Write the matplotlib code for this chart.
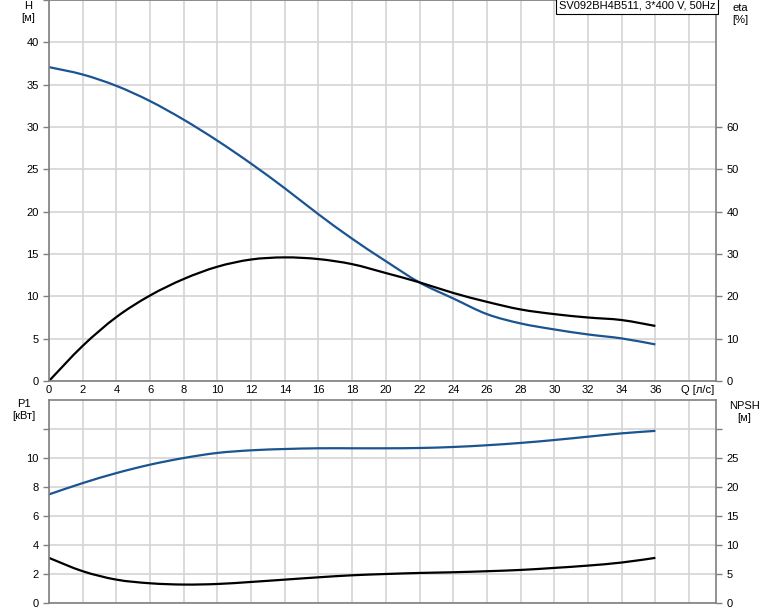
import matplotlib
matplotlib.use("Agg")
import matplotlib.pyplot as plt
from matplotlib.path import Path
from matplotlib.patches import PathPatch
import numpy as np

plt.rcParams['font.family'] = ['Liberation Sans', 'DejaVu Sans']
plt.rcParams['font.size'] = 8

# Data
Q = [0, 2, 4, 6, 8, 10, 12, 14, 16, 18, 20, 22, 24, 26, 28, 30, 32, 34, 36]
H = [37.07, 36.2, 34.86, 33.06, 30.86, 28.38, 25.67, 22.76, 19.69, 16.8,
     14.15, 11.63, 9.75, 7.9, 6.8, 6.09, 5.5, 5.03, 4.32]
ETA = [0.0, 8.3, 15.1, 20.2, 24.1, 27.0, 28.7, 29.2, 28.8, 27.6,
       25.5, 23.3, 20.8, 18.7, 16.9, 15.8, 15.0, 14.4, 13.0]
P1 = [7.49, 8.27, 8.96, 9.54, 10.0, 10.35, 10.53, 10.62, 10.67, 10.67,
      10.67, 10.69, 10.76, 10.88, 11.04, 11.24, 11.47, 11.7, 11.87]
NPSH = [7.78, 5.48, 4.03, 3.4, 3.18, 3.28, 3.63, 4.03, 4.43, 4.78,
        5.0, 5.18, 5.3, 5.48, 5.7, 6.05, 6.45, 6.98, 7.78]

x_ticks = list(range(0, 37, 2))
h_ticks = [0, 5, 10, 15, 20, 25, 30, 35, 40]
eta_ticks = [0, 10, 20, 30, 40, 50, 60]
p1_ticks = [0, 2, 4, 6, 8, 10]
npsh_ticks = [0, 5, 10, 15, 20, 25]
title_text = "SV092BH4B511, 3*400 V, 50Hz"

BLUE = '#1a5491'
GRID = '#d4d4d4'
SPINE = '#7f7f7f'

W, Hpx = 774, 611
fig = plt.figure(figsize=(W / 100, Hpx / 100), dpi=100)

left = 49 / W
right = 716 / W
axw = right - left

ax1 = fig.add_axes([left, 1 - 381 / Hpx, axw, 381 / Hpx])
ax2 = fig.add_axes([left, 1 - 603 / Hpx, axw, (603 - 400) / Hpx])

xmax = 39.6


def smooth_curve(ax, xs, ys, color):
    """Draw a smooth Catmull-Rom (cubic Bezier) path through the data points."""
    xs = np.asarray(xs, float)
    ys = np.asarray(ys, float)
    n = len(xs)
    verts = [(xs[0], ys[0])]
    codes = [Path.MOVETO]
    for i in range(n - 1):
        p0 = np.array([xs[max(i - 1, 0)], ys[max(i - 1, 0)]])
        p1 = np.array([xs[i], ys[i]])
        p2 = np.array([xs[i + 1], ys[i + 1]])
        p3 = np.array([xs[min(i + 2, n - 1)], ys[min(i + 2, n - 1)]])
        c1 = p1 + (p2 - p0) / 6.0
        c2 = p2 - (p3 - p1) / 6.0
        verts += [tuple(c1), tuple(c2), tuple(p2)]
        codes += [Path.CURVE4, Path.CURVE4, Path.CURVE4]
    patch = PathPatch(Path(verts, codes), facecolor='none', edgecolor=color,
                      linewidth=1.6, capstyle='butt', joinstyle='round')
    ax.add_patch(patch)


def style(ax):
    for s in ax.spines.values():
        s.set_color(SPINE)
        s.set_linewidth(1.2)
    ax.set_xlim(0, xmax)
    ax.set_xticks(list(range(0, 39, 2)))
    ax.grid(True, color=GRID, linewidth=1.2)
    ax.set_axisbelow(True)
    ax.tick_params(colors='black', length=4, width=1, color=SPINE, labelsize=8)

# Top axes
style(ax1)
ax1.set_ylim(0, 45)
ax1.set_yticks(list(range(0, 46, 5)))
ax1.set_yticklabels([str(v) if v in h_ticks else '' for v in range(0, 46, 5)])
ax1.set_xticklabels([str(v) if v in x_ticks else '' for v in range(0, 39, 2)])
ax1.tick_params(axis='x', length=0, pad=3)
smooth_curve(ax1, Q, H, BLUE)
smooth_curve(ax1, Q, np.array(ETA) / 2.0, 'black')

ax1r = ax1.twinx()
ax1r.set_ylim(0, 90)
ax1r.set_yticks(eta_ticks)
for s in ax1r.spines.values():
    s.set_visible(False)
ax1r.tick_params(axis='y', length=4, width=1, color=SPINE, labelsize=8)

fig.text(28 / W, 1 - 12 / Hpx, "H\n[м]", ha='center', va='center', fontsize=8, linespacing=1.3)
fig.text(740 / W, 1 - 14 / Hpx, "eta\n[%]", ha='center', va='center', fontsize=8, linespacing=1.3)
fig.text(698 / W, 1 - 390 / Hpx, "Q [л/с]", ha='center', va='center', fontsize=8)

ax1.text(0.9995, 0.998, title_text, transform=ax1.transAxes, ha='right', va='top',
         fontsize=8, bbox=dict(boxstyle='square,pad=0.25', facecolor='white',
                               edgecolor='black', linewidth=0.8))

# Bottom axes
style(ax2)
ax2.set_ylim(0, 14)
ax2.set_yticks(list(range(0, 13, 2)))
ax2.set_yticklabels([str(v) if v in p1_ticks else '' for v in range(0, 13, 2)])
ax2.set_xticklabels([])
ax2.tick_params(axis='x', length=0)
smooth_curve(ax2, Q, P1, BLUE)
smooth_curve(ax2, Q, np.array(NPSH) / 2.5, 'black')

ax2r = ax2.twinx()
ax2r.set_ylim(0, 35)
ax2r.set_yticks(list(range(0, 31, 5)))
ax2r.set_yticklabels([str(v) if v in npsh_ticks else '' for v in range(0, 31, 5)])
for s in ax2r.spines.values():
    s.set_visible(False)
ax2r.tick_params(axis='y', length=4, width=1, color=SPINE, labelsize=8)

fig.text(24 / W, 1 - 410 / Hpx, "P1\n[кВт]", ha='center', va='center', fontsize=8, linespacing=1.3)
fig.text(744 / W, 1 - 412 / Hpx, "NPSH\n[м]", ha='center', va='center', fontsize=8, linespacing=1.3)

fig.savefig("out.png", dpi=100)
